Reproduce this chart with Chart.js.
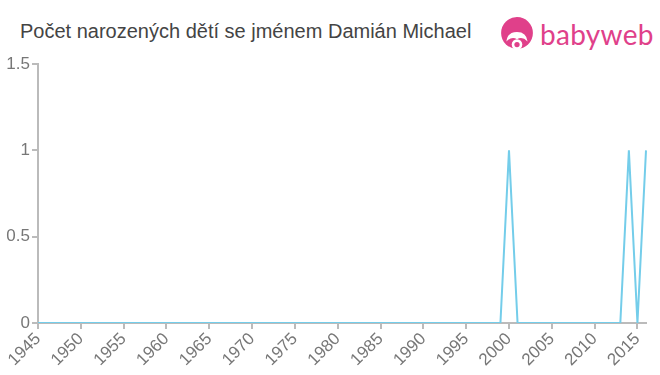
<!DOCTYPE html>
<html>
<head>
<meta charset="utf-8">
<script src="https://cdn.jsdelivr.net/npm/chart.js@4.4.0/dist/chart.umd.min.js"></script>
<style>
  body { margin: 0; background: #fff; width: 660px; height: 375px; overflow: hidden; position: relative; font-family: "Liberation Sans", Arial, sans-serif; }
  #title { position: absolute; left: 20px; top: 20px; font-size: 20px; color: #444; white-space: nowrap; }
  #logo { position: absolute; left: 500px; top: 16px; height: 36px; display: flex; align-items: center; }
  #logo span { font-family: "Lato", sans-serif; font-size: 28px; color: #e0408a; margin-left: 6px; letter-spacing: 0.3px; }
  #wrap { position: absolute; left: 0; top: 0; width: 660px; height: 375px; }
</style>
</head>
<body>
<div id="title">Počet narozených dětí se jménem Damián Michael</div>
<div id="logo">
  <svg width="34" height="36" viewBox="0 0 32 34">
    <circle cx="16" cy="16" r="15" fill="#e0408a"/>
    <path d="M6 24 Q7 15 16 15 Q25 15 26 24 Q21 19 16 22 Q11 19 6 24 Z" fill="#fff"/>
    <circle cx="16" cy="27" r="5" fill="#fff"/>
    <circle cx="16" cy="27" r="2.5" fill="#e0408a"/>
  </svg>
  <span>babyweb</span>
</div>
<div id="wrap"><canvas id="chart" width="660" height="375"></canvas></div>
<script>
const years = [];
for (let y = 1945; y <= 2016; y++) years.push(String(y));
// births per year; only 2000, 2014 and 2016 have one
const births = [
  0,0,0,0,0, 0,0,0,0,0, 0,0,0,0,0, 0,0,0,0,0,   // 1945-1964
  0,0,0,0,0, 0,0,0,0,0, 0,0,0,0,0, 0,0,0,0,0,   // 1965-1984
  0,0,0,0,0, 0,0,0,0,0, 0,0,0,0,0,              // 1985-1999
  1,0,0,0,0, 0,0,0,0,0, 0,0,0,0,1, 0,1          // 2000-2016
];
const yTicks = [0, 0.5, 1, 1.5];

const axisColor = '#bbbbbb';
const labelColor = '#777777';

new Chart(document.getElementById('chart'), {
  type: 'line',
  data: {
    labels: years,
    datasets: [{
      data: births,
      borderColor: '#74cdea',
      borderWidth: 2,
      pointRadius: 0,
      tension: 0,
      fill: false
    }]
  },
  options: {
    responsive: false,
    animation: false,
    layout: { padding: { top: 64, right: 14, left: 0, bottom: 0 } },
    plugins: { legend: { display: false }, tooltip: { enabled: false } },
    scales: {
      x: {
        offset: false,
        grid: { drawOnChartArea: false, color: axisColor, tickLength: 6, lineWidth: 2 },
        border: { color: axisColor, width: 2 },
        ticks: {
          autoSkip: false,
          maxRotation: 45,
          minRotation: 45,
          color: labelColor,
          font: { family: 'Liberation Sans', size: 17 },
          padding: 0,
          callback: function (v, i) {
            const y = Number(years[i]);
            return y % 5 === 0 ? years[i] : null;
          }
        },
        afterFit: function (s) { s.height = 52; }
      },
      y: {
        min: 0,
        max: 1.5,
        grid: { drawOnChartArea: false, color: axisColor, tickLength: 6, lineWidth: 2 },
        border: { color: axisColor, width: 2 },
        ticks: {
          stepSize: 0.5,
          color: labelColor,
          font: { family: 'Liberation Sans', size: 17 },
          padding: 2,
          callback: function (v) { return yTicks.includes(v) ? String(v) : null; }
        },
        afterFit: function (s) { s.width = 38; }
      }
    }
  }
});
</script>
</body>
</html>
